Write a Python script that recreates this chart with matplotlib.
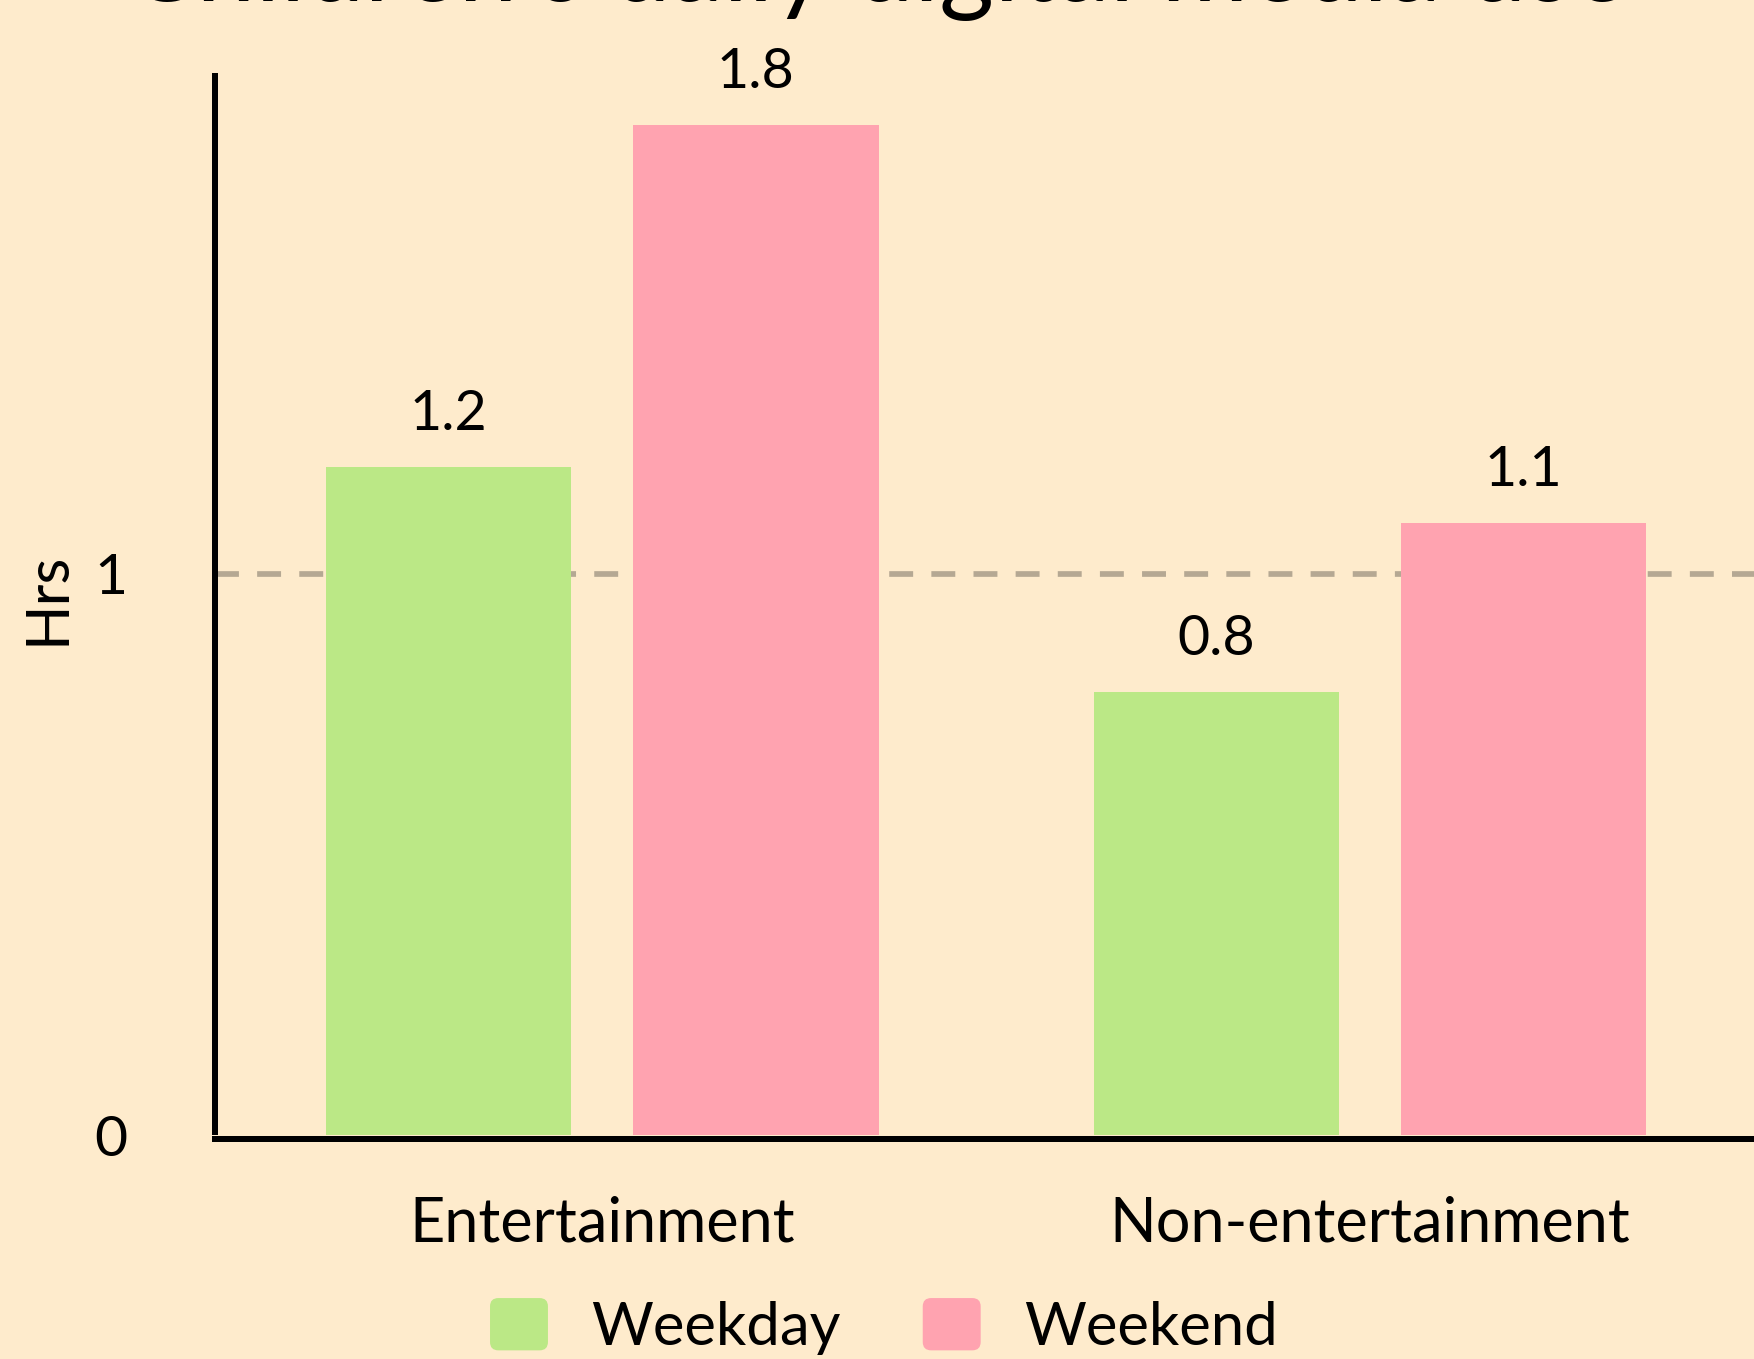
import numpy as np
import matplotlib
matplotlib.use("Agg")
import matplotlib.pyplot as plt
from matplotlib.patches import FancyBboxPatch, Patch
from matplotlib.legend_handler import HandlerPatch

# data
categories = ["Entertainment", "Non-entertainment"]
series_names = ["Weekday", "Weekend"]
weekday = [1.19, 0.79]
weekend = [1.8, 1.09]
title = "Children's daily digital media use"

bg = "#FEEBCC"
colors = ["#BBE886", "#FFA3B0"]

plt.rcParams["font.family"] = ["Lato", "DejaVu Sans"]

fig = plt.figure(figsize=(17.54, 13.59), dpi=100, facecolor=bg)
ax = fig.add_axes([215 / 1754, 1 - 1135 / 1359, 1 - 215 / 1754, (1135 - 73) / 1359])
ax.set_facecolor(bg)

x = np.arange(len(categories))
w = 0.32
off = 0.2

# reference line at 1 hr
ax.axhline(1, color="#B5A893", lw=4.1, dashes=(4.2, 3.2), zorder=0)

b1 = ax.bar(x - off, weekday, w, color=colors[0], label=series_names[0], zorder=2)
b2 = ax.bar(x + off, weekend, w, color=colors[1], label=series_names[1], zorder=2)
for bars in (b1, b2):
    ax.bar_label(bars, fmt="%.1f", padding=19.5, fontsize=40)

ax.set_xlim(-0.504, 1.5)
ax.set_ylim(0, 1.893)
ax.set_yticks([0, 1])
ax.set_yticklabels(["0", "1"])
ax.set_xticks(x)
ax.set_xticklabels(categories)
ax.tick_params(axis="both", length=0)
ax.tick_params(axis="y", pad=63, labelsize=41)
ax.tick_params(axis="x", pad=41, labelsize=44)
ax.set_ylabel("Hrs", fontsize=43)
ax.yaxis.set_label_coords(-0.0915, 0.505)

for s in ["top", "right"]:
    ax.spines[s].set_visible(False)
ax.spines["left"].set_linewidth(4.32)
ax.spines["left"].set_capstyle("butt")
ax.spines["bottom"].set_linewidth(4.32)
ax.spines["bottom"].set_position(("outward", 2.9))
for s in ["left", "bottom"]:
    ax.spines[s].set_color("black")
    ax.spines[s].set_zorder(3)


def rounded(legend, orig_handle, xdescent, ydescent, width, height, fontsize):
    return FancyBboxPatch((-xdescent, -ydescent), width, height,
                          boxstyle="round,pad=0,rounding_size=6")


handles = [Patch(facecolor=c, edgecolor="none", label=n) for c, n in zip(colors, series_names)]
leg = fig.legend(handles=handles, loc="center", bbox_to_anchor=(0.504, 0.024),
                 ncol=2, frameon=False, fontsize=43, handlelength=0.97,
                 handleheight=0.97, handletextpad=0.73, columnspacing=1.37,
                 handler_map={Patch: HandlerPatch(patch_func=rounded)})

# title is cut off by the top edge, as in the source image
fig.text(0.5, 1 - 1 / 1359, title, ha="center", va="baseline", fontsize=76)

fig.savefig("out.png", dpi=100, facecolor=bg)
